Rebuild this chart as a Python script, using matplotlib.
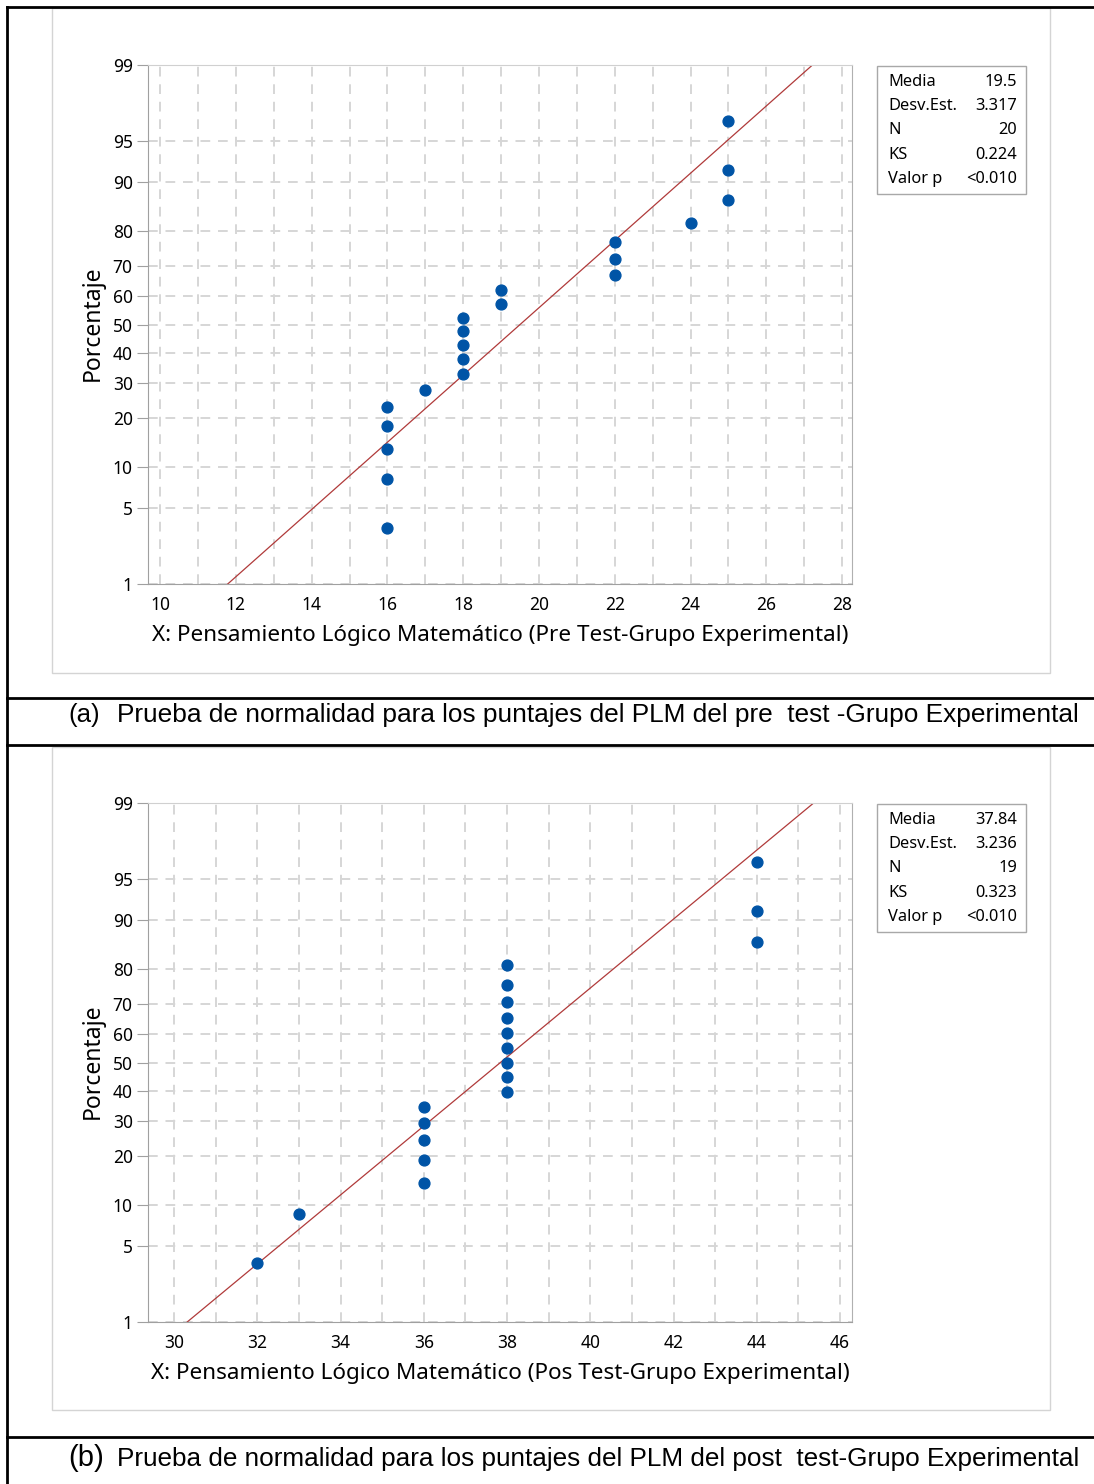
import matplotlib
matplotlib.use("Agg")
import matplotlib.pyplot as plt
from matplotlib.lines import Line2D
from matplotlib.patches import Rectangle
from statistics import NormalDist
import numpy as np

# data: scores of each group (one value per student)
pre_scores = [16, 16, 16, 16, 16, 17, 18, 18, 18, 18, 18, 19, 19,
              22, 22, 22, 24, 25, 25, 25]
post_scores = [32, 33, 36, 36, 36, 36, 36, 38, 38, 38, 38, 38, 38, 38, 38, 38,
               44, 44, 44]

pre_stats = {"mean": 19.5, "sd": 3.317, "N": 20, "KS": 0.224}
post_stats = {"mean": 37.84, "sd": 3.236, "N": 19, "KS": 0.323}
stat_names = ["Media", "Desv.Est.", "N", "KS", "Valor p"]

y_ticks = [1, 5, 10, 20, 30, 40, 50, 60, 70, 80, 90, 95, 99]
pre_xticks = [10, 12, 14, 16, 18, 20, 22, 24, 26, 28]
post_xticks = [30, 32, 34, 36, 38, 40, 42, 44, 46]

pre_xlabel = "X: Pensamiento Lógico Matemático (Pre Test-Grupo Experimental)"
post_xlabel = "X: Pensamiento Lógico Matemático (Pos Test-Grupo Experimental)"
cap_a = "Prueba de normalidad para los puntajes del PLM del pre  test -Grupo Experimental"
cap_b = "Prueba de normalidad para los puntajes del PLM del post  test-Grupo Experimental"

ND = NormalDist()
W, H = 1094, 1484


def fwd(p):
    p = np.clip(np.asarray(p, dtype=float), 1e-6, 100 - 1e-6)
    return np.vectorize(lambda v: ND.inv_cdf(v / 100.0), otypes=[float])(p)


def inv(z):
    return np.vectorize(lambda v: ND.cdf(v) * 100.0, otypes=[float])(np.asarray(z, dtype=float))


def fx(px):
    return px / W


def fy(py):
    return 1 - py / H


fig = plt.figure(figsize=(W / 100, H / 100), dpi=100)
tick_font = "Noto Sans"
blue = "#0054A6"
red = "#B03A3A"
grid_c = "#d6d6d6"


def panel(top, scores, st, xticks, xlim, xlabel):
    ax = fig.add_axes([fx(148), fy(top + 519), fx(852) - fx(148), 519 / H])
    ax.set_yscale("function", functions=(fwd, inv))
    n = len(scores)
    xs = np.sort(scores)
    # median ranks, as the probability plot does
    pct = (np.arange(1, n + 1) - 0.3) / (n + 0.4) * 100
    zline = np.array([ND.inv_cdf(0.01), ND.inv_cdf(0.99)])
    ax.plot(st["mean"] + st["sd"] * zline, [1, 99], color=red, lw=0.9, zorder=2)
    ax.plot(xs, pct, "o", color=blue, ms=7.8, mec=blue, zorder=3)
    ax.set_yticks(y_ticks)
    ax.set_yticklabels([str(v) for v in y_ticks])
    ax.yaxis.set_minor_locator(matplotlib.ticker.NullLocator())
    ax.set_xticks(xticks)
    ax.set_xticks(np.arange(xticks[0] - 1, xticks[-1] + 2, 1), minor=True)
    ax.set_ylim(1, 99)
    ax.set_xlim(*xlim)
    ax.grid(True, which="both", color=grid_c, ls=(0, (5, 4)), lw=1.4, zorder=0)
    ax.tick_params(axis="y", length=8, color="#a0a0a0", labelsize=12.5, pad=3)
    ax.tick_params(axis="x", which="both", length=0, labelsize=12.5, pad=9)
    for lbl in ax.get_xticklabels() + ax.get_yticklabels():
        lbl.set_family(tick_font)
    for s in ax.spines.values():
        s.set_color("#d0d0d0")
    ax.spines["left"].set_color("#a0a0a0")
    ax.spines["bottom"].set_color("#a0a0a0")
    ax.spines["right"].set_color("#b0b0b0")
    fig.text(fx(500), fy(top + 571), xlabel, ha="center", va="center",
             family=tick_font, fontsize=16.2)
    fig.text(fx(93), fy(top + 258), "Porcentaje", ha="center", va="center",
             rotation=90, family=tick_font, fontsize=16.5)
    # stats box
    fig.add_artist(Rectangle((fx(877), fy(top + 129)), fx(1026) - fx(877), 128 / H,
                             transform=fig.transFigure, fill=False,
                             ec="#a8a8a8", lw=1))
    vals = [f"{st['mean']}", f"{st['sd']:.3f}", f"{st['N']}", f"{st['KS']:.3f}", "<0.010"]
    for i, (name, v) in enumerate(zip(stat_names, vals)):
        yy = fy(top + 17 + i * 24.2)
        fig.text(fx(888), yy, name, ha="left", va="center", family=tick_font, fontsize=11.8)
        fig.text(fx(1017), yy, v, ha="right", va="center", family=tick_font, fontsize=11.8)
    return ax


# gray graph borders
for y0, y1 in [(8, 673), (747, 1410)]:
    fig.add_artist(Rectangle((fx(52), fy(y1)), fx(1050) - fx(52), (y1 - y0) / H,
                             transform=fig.transFigure, fill=False, ec="#d4d4d4", lw=1))

panel(65, pre_scores, pre_stats, pre_xticks, (9.68, 28.26), pre_xlabel)
panel(803, post_scores, post_stats, post_xticks, (29.37, 46.29), post_xlabel)

# table lines
for yy in [7, 698, 745, 1437]:
    fig.add_artist(Line2D([fx(7), 1], [fy(yy), fy(yy)], transform=fig.transFigure,
                          color="black", lw=2))
fig.add_artist(Line2D([fx(7), fx(7)], [fy(7), 0], transform=fig.transFigure,
                      color="black", lw=2))

cap_font = "Liberation Sans"
fig.text(fx(68), fy(715), "(a)", ha="left", va="center", family=cap_font, fontsize=18.5)
fig.text(fx(117), fy(715), cap_a, ha="left", va="center", family=cap_font, fontsize=18.95)
fig.text(fx(68), fy(1458), "(b)", ha="left", va="center", family=cap_font, fontsize=21)
fig.text(fx(117), fy(1459), cap_b, ha="left", va="center", family=cap_font, fontsize=18.85)

fig.savefig("out.png", dpi=100)
